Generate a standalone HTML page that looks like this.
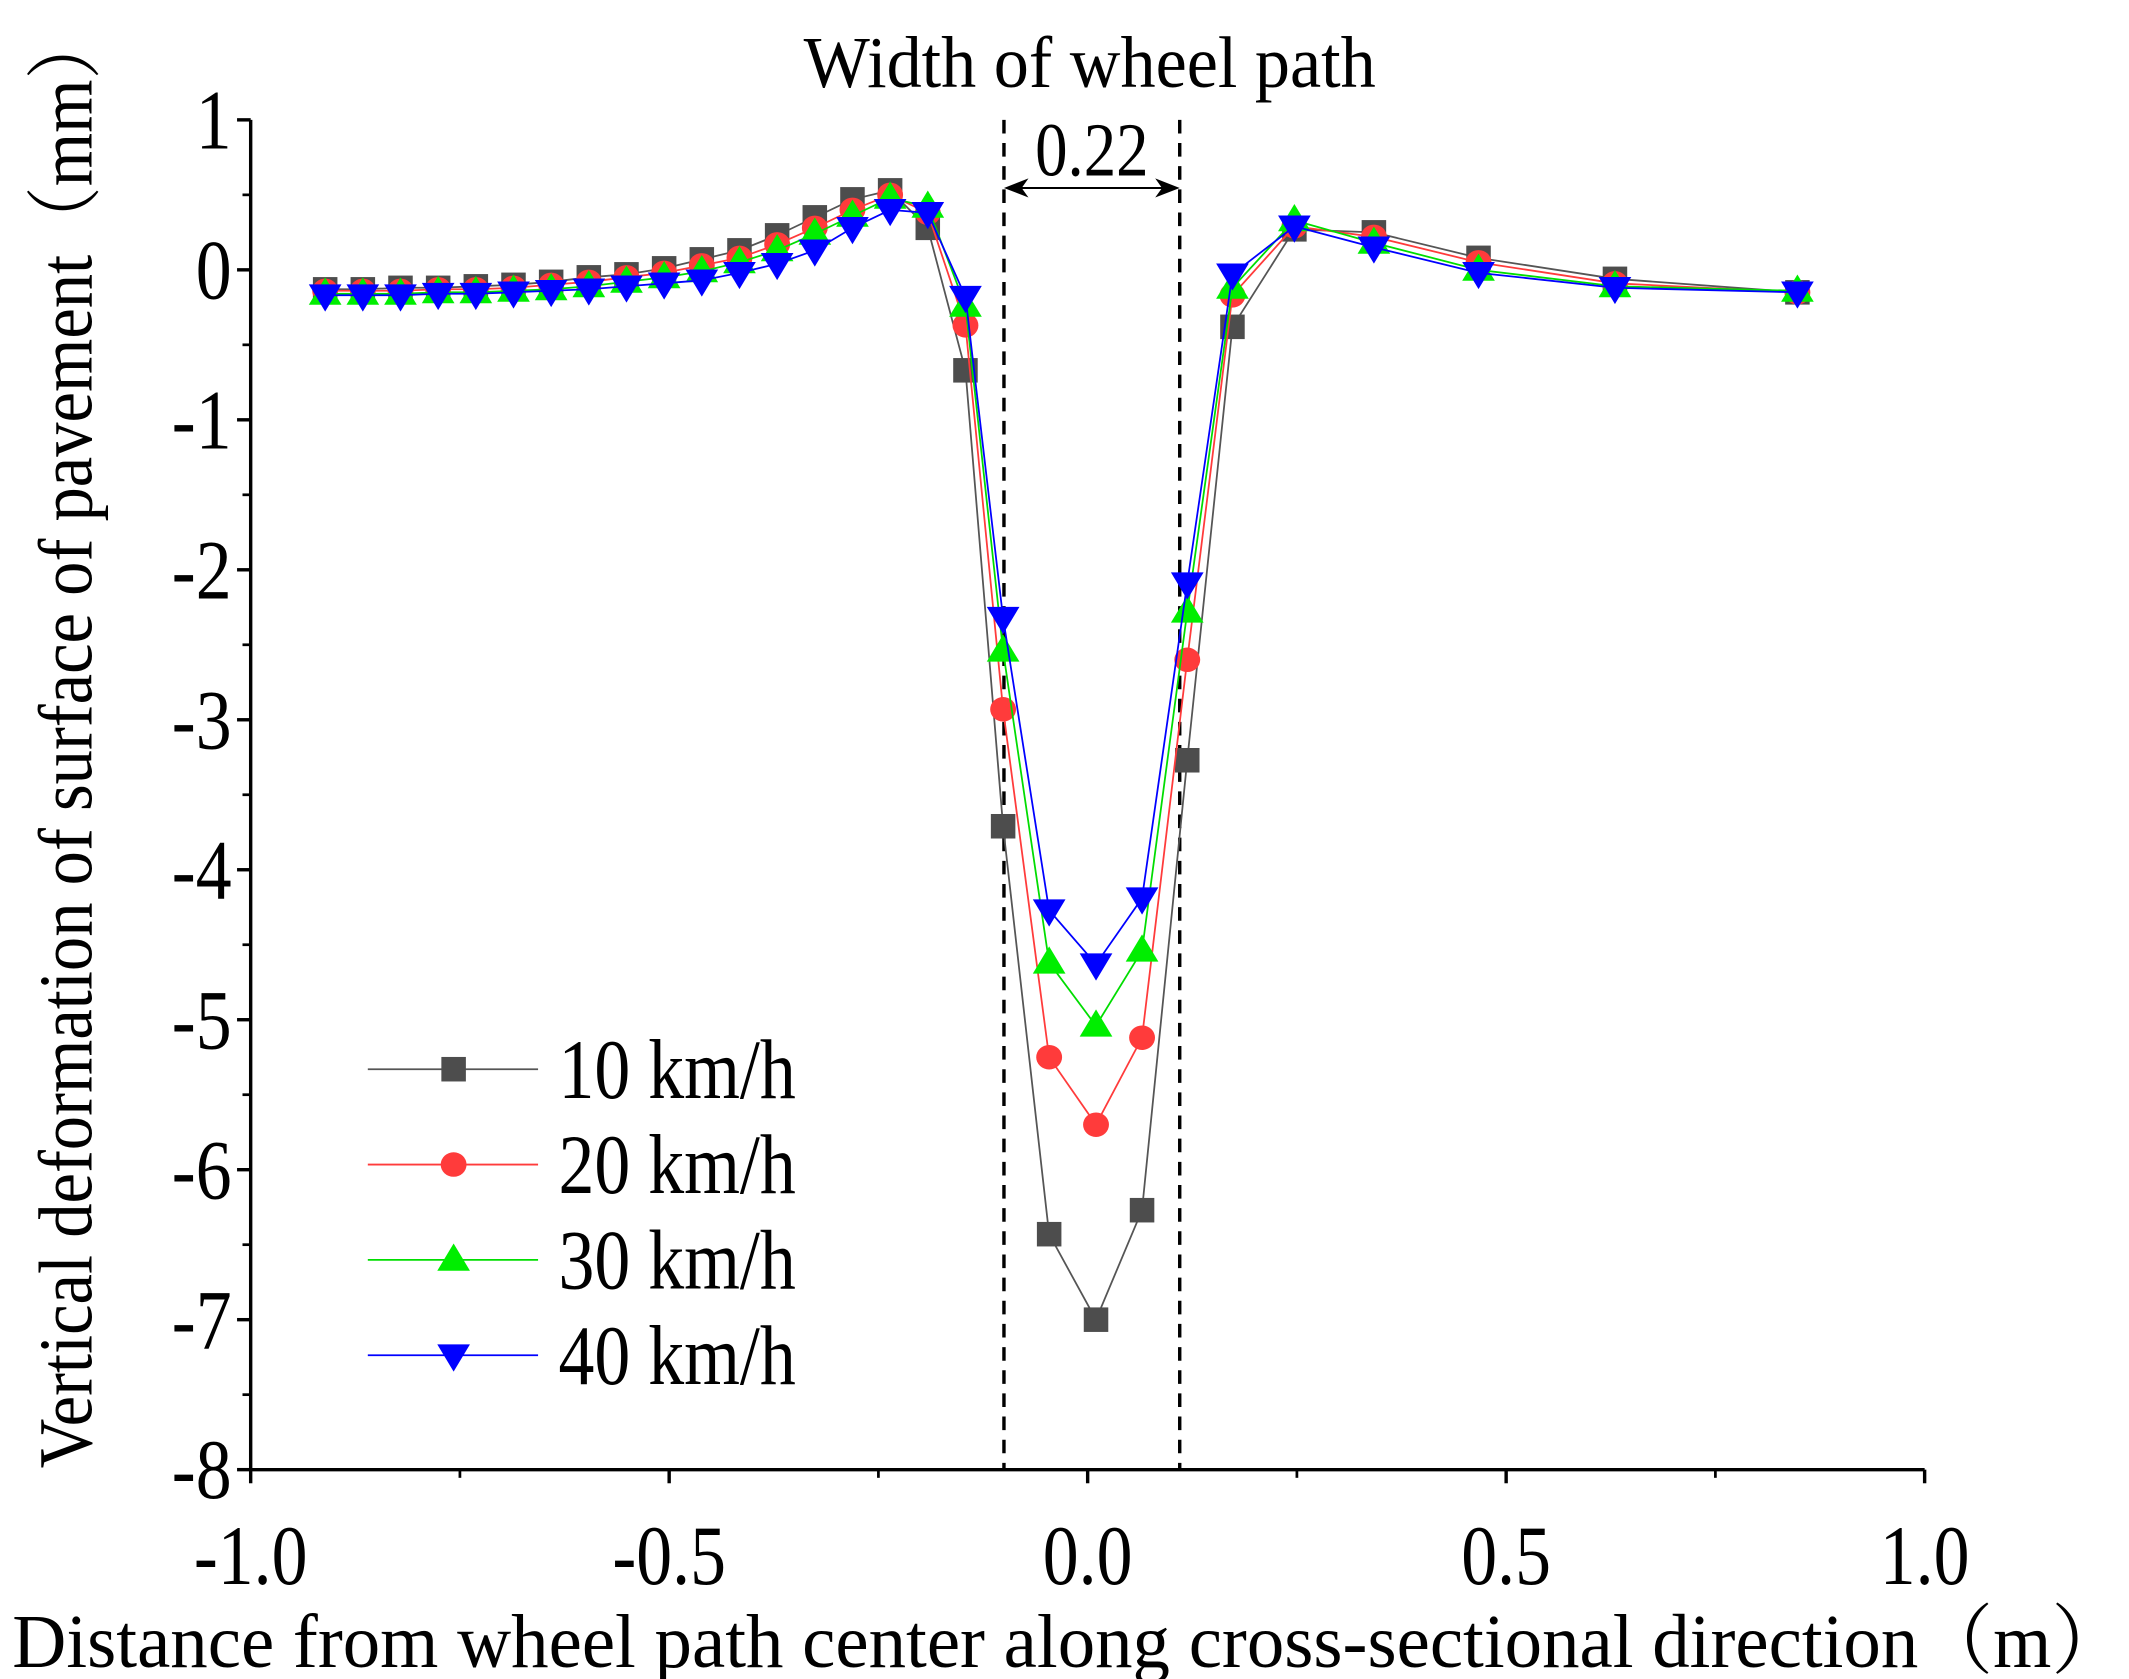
<!DOCTYPE html>
<html><head><meta charset="utf-8">
<style>
html,body{margin:0;padding:0;background:#fff;}
svg{display:block;}
text{font-family:"Liberation Serif","Noto Serif CJK SC",serif;fill:#000;}
</style></head>
<body>
<svg id="chart" width="2129" height="1679" viewBox="0 0 1563 1232.7" xmlns="http://www.w3.org/2000/svg">
<g id="plot"></g>
</svg>
<script>
const xLeft = [-0.911,-0.866,-0.821,-0.776,-0.731,-0.686,-0.641,-0.596,-0.551,-0.506,-0.461,-0.416,-0.371,-0.326,-0.281,-0.236,-0.191];
const xRight = [-0.146,-0.101,-0.046,0.010,0.065,0.119,0.173,0.247,0.342,0.467,0.630,0.848];
const seriesNames = ["10 km/h","20 km/h","30 km/h","40 km/h"];
const s10 = [-0.13,-0.13,-0.12,-0.12,-0.11,-0.10,-0.08,-0.05,-0.03,0.01,0.07,0.13,0.23,0.35,0.47,0.53,0.28,
             -0.67,-3.71,-6.43,-7.0,-6.27,-3.27,-0.38,0.27,0.25,0.08,-0.06,-0.15];
const s20 = [-0.14,-0.14,-0.14,-0.13,-0.13,-0.12,-0.10,-0.08,-0.05,-0.02,0.03,0.08,0.17,0.28,0.40,0.50,0.38,
             -0.37,-2.93,-5.25,-5.70,-5.12,-2.60,-0.17,0.29,0.22,0.05,-0.09,-0.15];
const s30 = [-0.16,-0.16,-0.16,-0.15,-0.15,-0.14,-0.13,-0.11,-0.08,-0.05,-0.01,0.05,0.13,0.24,0.36,0.48,0.42,
             -0.24,-2.54,-4.62,-5.04,-4.54,-2.28,-0.12,0.33,0.18,0.00,-0.11,-0.14];
const s40 = [-0.17,-0.17,-0.17,-0.16,-0.16,-0.15,-0.14,-0.13,-0.11,-0.09,-0.07,-0.02,0.04,0.13,0.28,0.40,0.38,
             -0.18,-2.32,-4.27,-4.63,-4.19,-2.09,-0.03,0.29,0.15,-0.02,-0.12,-0.15];
const xTicks = [-1.0,-0.5,0.0,0.5,1.0];
const xTickLabels = ["-1.0","-0.5","0.0","0.5","1.0"];
const yTicks = [1,0,-1,-2,-3,-4,-5,-6,-7,-8];
const yTickLabels = ["1","0","-1","-2","-3","-4","-5","-6","-7","-8"];
const pathBounds = [-0.1,0.11];
const pathWidthLabel = "0.22";

const NS="http://www.w3.org/2000/svg";
const g=document.getElementById('plot');
const X0=184,X1=1413,Y0=1079,Y1=88;
const sx=v=>X0+(v+1)/2*(X1-X0);
const sy=v=>Y0-(v+8)/9*(Y0-Y1);
function mk(tag,attrs,parent){const e=document.createElementNS(NS,tag);for(const k in attrs)e.setAttribute(k,attrs[k]);(parent||g).appendChild(e);return e;}
const SX=0.85;
function ntext(x,y,anchor,size,str,parent){
  const t=mk('text',{x:x/SX,y:y,'text-anchor':anchor,'font-size':size,transform:`scale(${SX},1)`},parent);
  t.textContent=str;return t;
}

let e;
e=mk('line',{x1:X0,y1:Y1,x2:X0,y2:Y0+1,stroke:'#000','stroke-width':2.5});


e=mk('line',{x1:X0-1,y1:Y0,x2:X1,y2:Y0,stroke:'#000','stroke-width':2.5});


yTicks.forEach((t,i)=>{
  mk('line',{x1:X0-10,y1:sy(t),x2:X0,y2:sy(t),stroke:'#000','stroke-width':2.5});
  if(t>-8) mk('line',{x1:X0-6,y1:sy(t-0.5),x2:X0,y2:sy(t-0.5),stroke:'#000','stroke-width':2});
  e=ntext(170,sy(t)+21,'end',62,yTickLabels[i]);
  
  
});
xTicks.forEach((t,i)=>{
  mk('line',{x1:sx(t),y1:Y0,x2:sx(t),y2:Y0+10,stroke:'#000','stroke-width':2.5});
  if(t<1) mk('line',{x1:sx(t+0.25),y1:Y0,x2:sx(t+0.25),y2:Y0+6,stroke:'#000','stroke-width':2});
  e=ntext(sx(t),1163,'middle',62,xTickLabels[i]);
  
  
});
pathBounds.forEach(b=>{
  e=mk('line',{x1:sx(b),y1:Y1,x2:sx(b),y2:Y0,stroke:'#000','stroke-width':2.5,'stroke-dasharray':'10,7'});
  
  
});
const ay=138,ax1=sx(pathBounds[0]),ax2=sx(pathBounds[1]);
mk('line',{x1:ax1+4,y1:ay,x2:ax2-4,y2:ay,stroke:'#000','stroke-width':1.5});
mk('path',{d:`M${ax1},${ay} l18,-7 l-5,7 l5,7 z`,fill:'#000'});
mk('path',{d:`M${ax2},${ay} l-18,-7 l5,7 l-5,7 z`,fill:'#000'});
e=ntext((ax1+ax2)/2,129,'middle',56,pathWidthLabel);


e=mk('text',{x:800,y:64,'text-anchor':'middle','font-size':54,textLength:420,lengthAdjust:'spacingAndGlyphs'});
e.textContent='Width of wheel path';


e=mk('text',{x:785,y:1224,'text-anchor':'middle','font-size':56,textLength:1552,lengthAdjust:'spacingAndGlyphs'});
e.textContent='Distance from wheel path center along cross-sectional direction（m）';


e=mk('text',{x:0,y:0,'text-anchor':'middle','font-size':56,textLength:1070,lengthAdjust:'spacingAndGlyphs',transform:'translate(67,543) rotate(-90)'});
e.textContent='Vertical deformation of surface of pavement（mm）';



const xs=xLeft.concat(xRight);
const colors=['#4d4d4d','#ff3b3b','#00ee00','#0000ff'];
const lineColors=['#555','#ff3b3b','#00dd00','#0000ff'];
const data=[s10,s20,s30,s40];
function marker(k,cx,cy,parent){
  if(k===0) return mk('rect',{x:cx-9,y:cy-9,width:18,height:18,fill:colors[0]},parent);
  if(k===1) return mk('ellipse',{cx:cx,cy:cy,rx:9.5,ry:9,fill:colors[1]},parent);
  if(k===2) return mk('path',{d:`M${cx},${cy-12} L${cx+12},${cy+8} L${cx-12},${cy+8} Z`,fill:colors[2]},parent);
  return mk('path',{d:`M${cx},${cy+12} L${cx+12},${cy-8} L${cx-12},${cy-8} Z`,fill:colors[3]},parent);
}
data.forEach((s,k)=>{
  const sg=mk('g',{});
  
  
  const pts=s.map((v,i)=>sx(xs[i]).toFixed(1)+','+sy(v).toFixed(1)).join(' ');
  mk('polyline',{points:pts,fill:'none',stroke:lineColors[k],'stroke-width':1.3},sg);
  s.forEach((v,i)=>{
    const m=marker(k,sx(xs[i]),sy(v),sg);
    
    
  });
});
const lg=mk('g',{});


seriesNames.forEach((n,k)=>{
  const y=785+k*70;
  const eg=mk('g',{},lg);
  
  
  mk('line',{x1:270,y1:y,x2:395,y2:y,stroke:lineColors[k],'stroke-width':1.3},eg);
  marker(k,333,y,eg);
  ntext(410,y+21,'start',62,n,eg);
});
</script>
</body></html>
